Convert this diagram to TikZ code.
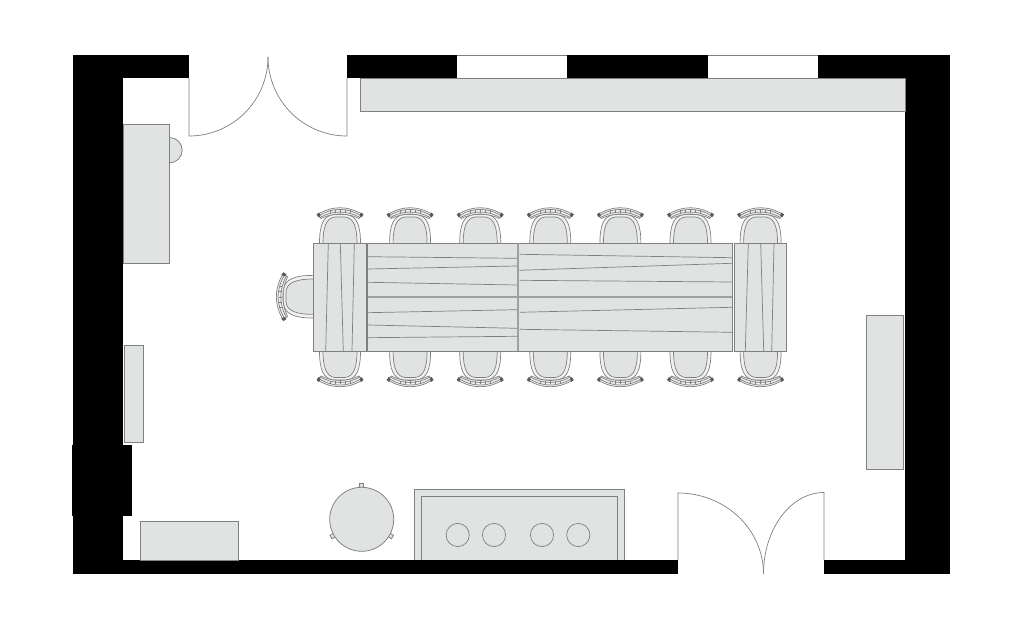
\documentclass[tikz,border=0pt]{standalone}
\usepackage{tikz}
\definecolor{plan}{HTML}{E1E3E2}
\definecolor{trait}{HTML}{7F8080}
\tikzset{
	wall/.style={fill=black},
	furniture/.style={draw=trait,line width=0.55pt,fill=plan},
	plank/.style={draw=trait,line width=0.5pt},
	door/.style={draw=trait,line width=0.5pt},
	joint/.style={draw=trait!75,line width=1.5pt},
	chair/.pic={
		\draw [plank,fill=white!50!plan] (-20.5,0) .. controls (-20.5,-18) and (-17,-28) .. (-6,-29) -- (6,-29) .. controls (17,-28) and (20.5,-18) .. (20.5,0) -- cycle;
		\draw [plank,fill=plan] (-17,0) .. controls (-17,-16) and (-14,-25.5) .. (-5,-26.5) -- (5,-26.5) .. controls (14,-25.5) and (17,-16) .. (17,0) -- cycle;
		\draw [plank,fill=white!50!plan] (-22.5,-29) .. controls (-7.5,-38) and (7.5,-38) .. (22.5,-29) -- (19,-25) .. controls (6.3,-31) and (-6.3,-31) .. (-19,-25) -- cycle;
		\draw [plank] (-21.5,-27.5) .. controls (-7,-36.3) and (7,-36.3) .. (21.5,-27.5);
		\draw [plank] (-20,-26) .. controls (-6.6,-33.3) and (6.6,-33.3) .. (20,-26);
		\foreach \t in {-10,-5,0,5,10}
			\draw [plank,very thin] (\t,-30.5) -- (\t,-33.5);
		\fill [trait!70!black] (-23.5,-29) -- (-21,-31) -- (-19.5,-28) -- (-21.5,-26) -- cycle;
		\fill [trait!70!black] (23.5,-29) -- (21,-31) -- (19.5,-28) -- (21.5,-26) -- cycle;
	}
}
\begin{document}
\begin{tikzpicture}[x=0.025cm,y=-0.025cm]
	\useasboundingbox (0,0) rectangle (1024,628);
	% walls
	\fill [wall] (73,55) rectangle (123,574);
	\fill [wall] (73,55) rectangle (189,78);
	\fill [wall] (347,55) rectangle (457,78);
	\fill [wall] (567,55) rectangle (708,78);
	\fill [wall] (818,55) rectangle (950,78);
	\fill [wall] (905,55) rectangle (950,574);
	\fill [wall] (123,560) rectangle (678,574);
	\fill [wall] (824,560) rectangle (950,574);
	\fill [wall] (72,445) rectangle (131.5,516);
	% windows
	\foreach \x/\xb in {457/567,708/818} {
		\draw [door] (\x,55) -- (\xb,55);
		\draw [door] (\x,78) -- (\xb,78);
	}
	% doors
	\draw [door] (189,78) -- (189,136) arc [start angle=90,end angle=0,radius=79];
	\draw [door] (347,78) -- (347,136) arc [start angle=90,end angle=180,radius=79];
	\draw [door] (678,560) -- (678,493) arc [start angle=-90,end angle=0,x radius=85.5,y radius=81];
	\draw [door] (824,560) -- (824,492.5) arc [start angle=-90,end angle=-180,x radius=60.5,y radius=81.5];
	% furniture
	\draw [furniture] (360,78) rectangle (905,111.5);
	\draw [furniture] (169.5,137.5) arc [start angle=-90,end angle=90,radius=12.7] -- cycle;
	\draw [furniture] (123,124) rectangle (169.5,263);
	\draw [furniture] (124.3,345.5) rectangle (143.3,442.5);
	\draw [furniture] (866,315) rectangle (903,469);
	\draw [furniture] (140.5,521.5) rectangle (238.5,560);
	% round table
	\foreach \a in {90,-30,-150}
		\draw [furniture,shift={(361.7,519.3)},rotate=\a] (31,-2) rectangle (35.5,2);
	\draw [furniture] (361.7,519.3) circle [radius=32];
	% hearth
	\draw [furniture] (414.3,560) -- (414.3,489.5) -- (624,489.5) -- (624,560);
	\draw [furniture] (421.3,560) -- (421.3,496.5) -- (617,496.5) -- (617,560);
	\foreach \x in {457.7,494,542,578.3}
		\draw [plank] (\x,535) circle [radius=11.6];
	% chairs
	\foreach \i in {0,...,6} {
		\pic at (340+70.1*\i,243.5) {chair};
		\pic [yscale=-1] at (340+70.1*\i,351) {chair};
	}
	\pic [rotate=90,scale=1.04] at (313.5,296.7) {chair};
	% table
	\draw [furniture] (313.3,243.3) rectangle (366.7,351.3);
	\draw [furniture] (367.5,243.3) rectangle (732,351.3);
	\draw [furniture] (734,243.3) rectangle (786.7,351.3);
	\draw [joint] (367.5,296.7) -- (732,296.7);
	\draw [joint] (518.2,243.3) -- (518.2,351.3);
	% planks
	\foreach \ya/\yb in {256.7/258.3,269/266,282.3/285,312.7/309.7,325/328.3,337.7/336.3}
		\draw [plank] (367.5,\ya) -- (517,\yb);
	\foreach \ya/\yb in {254.3/257.7,270.3/263.3,280.3/282,312.3/307.3,329.3/332.3}
		\draw [plank] (519.5,\ya) -- (732,\yb);
	\foreach \xa/\xb in {328.3/325.7,340.3/343.3,354.3/352,748.3/745.3,760.7/763.7,774/771.7}
		\draw [plank] (\xa,243.3) -- (\xb,351.3);
\end{tikzpicture}
\end{document}
